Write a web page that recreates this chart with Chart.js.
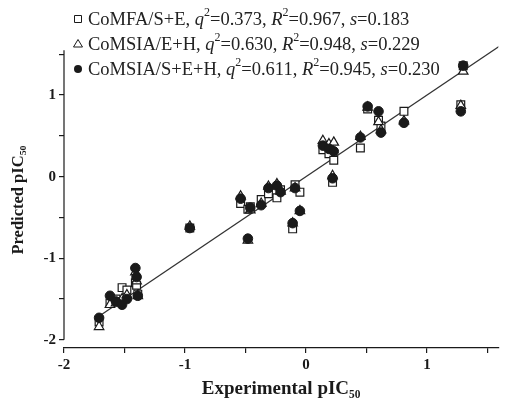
<!DOCTYPE html>
<html>
<head>
<meta charset="utf-8">
<script src="https://cdn.jsdelivr.net/npm/chart.js@4.4.1/dist/chart.umd.min.js"></script>
<style>
  html, body { margin: 0; padding: 0; background: #fff; }
  #wrap { width: 505px; height: 400px; }
</style>
</head>
<body>
<div id="wrap"><canvas id="chart"></canvas></div>
<script>
// experimental pIC50 of each compound
const expX = [-1.71, -1.62, -1.57, -1.52, -1.48, -1.41, -1.40, -1.39, -0.96, -0.54,
  -0.48, -0.46, -0.37, -0.31, -0.24, -0.21, -0.09, -0.11, -0.05, 0.14,
  0.19, 0.23, 0.22, 0.45, 0.51, 0.60, 0.62, 0.81, 1.28, 1.30]

// predicted pIC50 per model
const predComfa = [-1.78, -1.55, -1.50, -1.36, -1.39, -1.30, -1.33, -1.44, -0.63, -0.33,
  -0.40, -0.37, -0.28, -0.21, -0.26, -0.16, -0.10, -0.64, -0.19, 0.33,
  0.28, 0.20, -0.07, 0.35, 0.83, 0.69, 0.62, 0.80, 0.88, 1.36]
const predComsiaEH = [-1.84, -1.57, -1.55, -1.50, -1.45, -1.17, -1.28, -1.46, -0.61, -0.24,
  -0.78, -0.41, -0.33, -0.12, -0.09, -0.18, -0.14, -0.57, -0.42, 0.44,
  0.40, 0.42, 0.01, 0.49, 0.85, 0.67, 0.57, 0.68, 0.87, 1.29]
const predComsiaSEH = [-1.73, -1.46, -1.53, -1.57, -1.50, -1.12, -1.23, -1.46, -0.63, -0.27,
  -0.76, -0.38, -0.35, -0.14, -0.11, -0.19, -0.14, -0.57, -0.42, 0.38,
  0.34, 0.31, -0.02, 0.48, 0.86, 0.80, 0.54, 0.66, 0.80, 1.36]

// fitted line end points
const fitX = [-1.72, 1.62]
const fitY = [-1.72, 1.62]

// legend stats
const modelNames = ["CoMFA/S+E", "CoMSIA/E+H", "CoMSIA/S+E+H"]
const q2Vals = ["0.373", "0.630", "0.611"]
const r2Vals = ["0.967", "0.948", "0.945"]
const sVals = ["0.183", "0.229", "0.230"]

const xTicks = [-2, -1.5, -1, -0.5, 0, 0.5, 1, 1.5]
const yTicks = [-2, -1.5, -1, -0.5, 0, 0.5, 1, 1.5]

const ink = "#1a1a1a"
const serif = '"Liberation Serif", "Times New Roman", serif'

function pts(ys) {
  return expX.map((x, i) => ({ x: x, y: ys[i] }))
}

// custom legend, y axis line and y title
const decorPlugin = {
  id: "decor",
  afterDraw(chart) {
    const ctx = chart.ctx
    const yScale = chart.scales.y
    const left = chart.chartArea.left
    ctx.save()
    ctx.strokeStyle = ink
    ctx.lineWidth = 1.2
    ctx.beginPath()
    ctx.moveTo(left, yScale.getPixelForValue(-2))
    ctx.lineTo(left, yScale.getPixelForValue(1.55))
    ctx.stroke()

    // y title
    ctx.save()
    ctx.translate(19, 200)
    ctx.rotate(-Math.PI / 2)
    ctx.font = "bold 16.5px " + serif
    ctx.fillStyle = ink
    ctx.textAlign = "center"
    ctx.textBaseline = "middle"
    ctx.fillText("Predicted pIC₅₀", 0, 0)
    ctx.restore()

    const markers = ["rect", "triangle", "circle"]
    modelNames.forEach((name, i) => {
      const cy = 19 + i * 25
      const mx = 78
      ctx.strokeStyle = ink
      ctx.fillStyle = ink
      ctx.lineWidth = 1
      ctx.beginPath()
      if (markers[i] == "rect") {
        ctx.fillStyle = "#fff"
        ctx.rect(mx - 3.5, cy - 3.5, 7, 7)
        ctx.fill(); ctx.stroke()
      } else if (markers[i] == "triangle") {
        ctx.fillStyle = "#fff"
        ctx.moveTo(mx, cy - 4.5); ctx.lineTo(mx + 4.5, cy + 3); ctx.lineTo(mx - 4.5, cy + 3); ctx.closePath()
        ctx.fill(); ctx.stroke()
      } else {
        ctx.arc(mx, cy, 4, 0, Math.PI * 2)
        ctx.fill()
      }

      const parts = [
        [name + ", ", ""], ["q", "i"], ["2", "s"], ["=" + q2Vals[i] + ", ", ""],
        ["R", "i"], ["2", "s"], ["=" + r2Vals[i] + ", ", ""],
        ["s", "i"], ["=" + sVals[i], ""]
      ]
      let x = 88
      ctx.fillStyle = "#222"
      ctx.textBaseline = "middle"
      ctx.textAlign = "left"
      parts.forEach(p => {
        if (p[1] == "s") {
          ctx.font = "12px " + serif
          ctx.fillText(p[0], x, cy - 6)
        } else {
          ctx.font = (p[1] == "i" ? "italic " : "") + "18.5px " + serif
          ctx.fillText(p[0], x, cy + 1)
        }
        x += ctx.measureText(p[0]).width
      })
    })
    ctx.restore()
  }
}

const tickOpts = {
  font: { family: serif, size: 15, weight: "bold" },
  color: ink,
  padding: 3,
  callback: v => (Number.isInteger(v) ? String(v) : "")
}

new Chart(document.getElementById("chart"), {
  type: "scatter",
  data: {
    datasets: [
      {
        label: modelNames[0], data: pts(predComfa), order: 3,
        pointStyle: "rect", pointRadius: 5.5, borderWidth: 1.2,
        borderColor: ink, backgroundColor: "#fff"
      },
      {
        label: modelNames[1], data: pts(predComsiaEH), order: 2,
        pointStyle: "triangle", pointRadius: 5.5, borderWidth: 1.2,
        borderColor: ink, backgroundColor: "#fff"
      },
      {
        label: modelNames[2], data: pts(predComsiaSEH), order: 1,
        pointStyle: "circle", pointRadius: 4.8, borderWidth: 1,
        borderColor: ink, backgroundColor: ink
      },
      {
        type: "line", label: "fit", order: 5,
        data: fitX.map((x, i) => ({ x: x, y: fitY[i] })),
        borderColor: "#333", borderWidth: 1.3, pointRadius: 0, fill: false
      }
    ]
  },
  options: {
    animation: false,
    responsive: true,
    maintainAspectRatio: false,
    layout: { padding: { top: 42, left: 0, right: 0, bottom: 0 } },
    plugins: { legend: { display: false }, tooltip: { enabled: false } },
    scales: {
      x: {
        type: "linear", min: -2, max: 1.59,
        afterBuildTicks: s => { s.ticks = xTicks.map(v => ({ value: v })) },
        afterFit: s => { s.height = 52 },
        grid: { drawOnChartArea: false, tickLength: 5, color: ink, lineWidth: 1.2 },
        border: { display: true, color: ink, width: 1.2 },
        ticks: tickOpts,
        title: {
          display: true, text: "Experimental pIC₅₀", color: ink,
          font: { family: serif, size: 19, weight: "bold" },
          padding: { top: 0, bottom: 0 }
        }
      },
      y: {
        type: "linear", min: -2.1, max: 1.65,
        afterBuildTicks: s => { s.ticks = yTicks.map(v => ({ value: v })) },
        afterFit: s => { s.width = 64 },
        grid: { drawOnChartArea: false, tickLength: 5, color: ink, lineWidth: 1.2 },
        border: { display: false },
        ticks: tickOpts
      }
    }
  },
  plugins: [decorPlugin]
})
</script>
</body>
</html>
